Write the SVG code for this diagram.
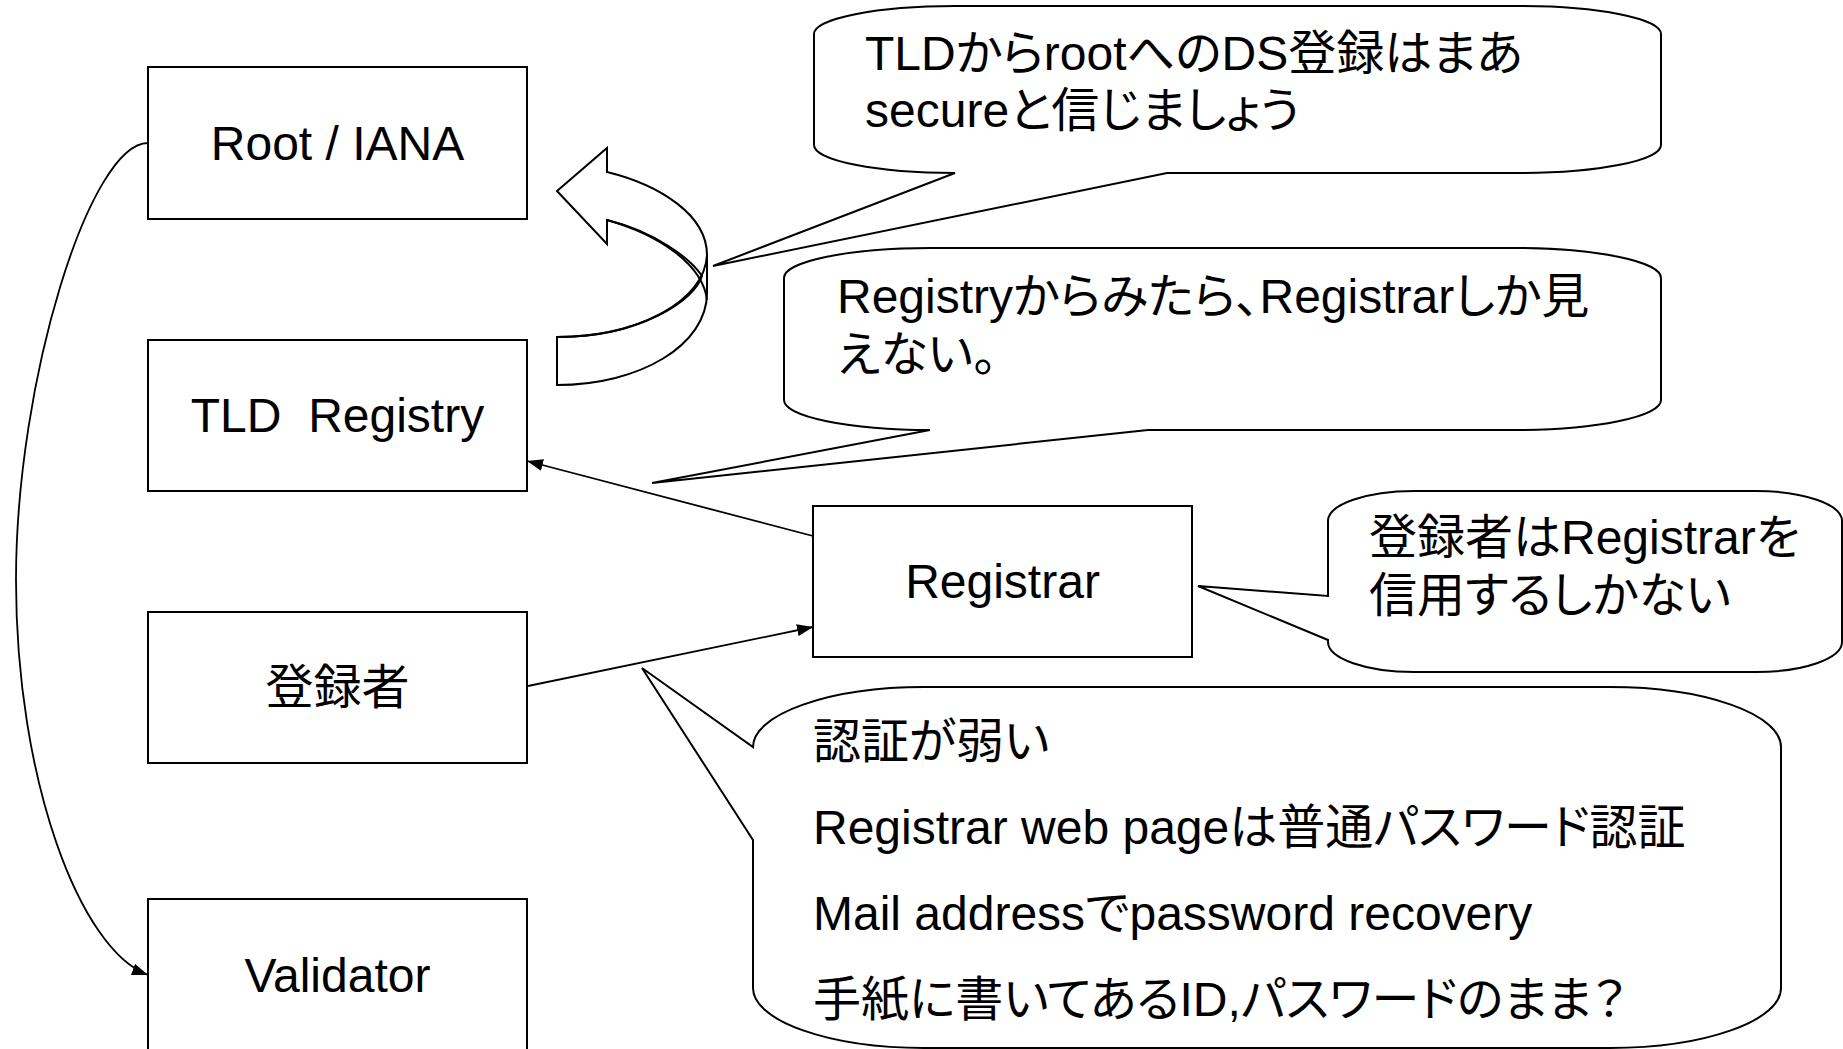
<svg xmlns="http://www.w3.org/2000/svg" width="1843" height="1049" viewBox="0 0 1843 1049">
<defs>
<style>
.box{fill:#fff;stroke:#000;stroke-width:2}
.bub{fill:#fff;stroke:#000;stroke-width:2;stroke-linejoin:miter}
.con{fill:none;stroke:#000;stroke-width:1.8}
.nt{font-family:"Liberation Sans","Noto Sans CJK JP",sans-serif;font-size:48px;fill:#000;text-anchor:middle;white-space:pre}
.bt{font-family:"Liberation Sans","Noto Sans CJK JP",sans-serif;font-size:48px;fill:#000;font-feature-settings:"palt"}
</style>
<marker id="arr" viewBox="0 0 16 12" refX="16" refY="6" markerWidth="16" markerHeight="12" orient="auto" markerUnits="userSpaceOnUse"><path d="M0,0 L16,6 L0,12 z" fill="#000"/></marker>
</defs>
<rect width="1843" height="1049" fill="#fff"/>

<g id="connectors">
<path class="con" d="M148,143 C90,143 16,380 16,580 C16,780 80,950 148,975" marker-end="url(#arr)"/>
<line class="con" x1="813" y1="536" x2="527" y2="461" marker-end="url(#arr)"/>
<line class="con" x1="528" y1="686" x2="813" y2="627" marker-end="url(#arr)"/>
</g>

<g id="curved-arrow">
<path class="box" d="M557,191 L607,148 L607,172 C660,185 707,215 707,255 L707,293 C707,345 640,385 557,385 L557,337 C640,337 695,300 702,276 C690,258 655,232 607,220 L607,244 Z"/>
<path class="con" style="stroke-width:2" d="M607,220 C660,235 703,265 707,300"/>
<path class="con" style="stroke-width:2" d="M557,337 C640,337 705,300 707,255"/>
</g>

<g id="node-root">
<rect class="box" x="148" y="67" width="379" height="152"/>
<text class="nt" x="337.5" y="160">Root / IANA</text>
</g>
<g id="node-tld">
<rect class="box" x="148" y="340" width="379" height="151"/>
<text class="nt" x="337.5" y="432">TLD  Registry</text>
</g>
<g id="node-registrant">
<rect class="box" x="148" y="612" width="379" height="151"/>
<text class="nt" x="337.5" y="704">登録者</text>
</g>
<g id="node-validator">
<rect class="box" x="148" y="899" width="379" height="152"/>
<text class="nt" x="337.5" y="992">Validator</text>
</g>
<g id="node-registrar">
<rect class="box" x="813" y="506" width="379" height="151"/>
<text class="nt" x="1002.5" y="598">Registrar</text>
</g>

<g id="callout-ds">
<path class="bub" d="M955,6 L1520,6 A141 28 0 0 1 1661,34 L1661,145 A141 28 0 0 1 1520,173 L1167,173 L713,266 L955,173 A141 28 0 0 1 814,145 L814,34 A141 28 0 0 1 955,6 Z"/>
<text class="bt" x="865" y="70">TLDからrootへのDS登録はまあ</text>
<text class="bt" x="865" y="127">secureと信じましょう</text>
</g>

<g id="callout-registry">
<path class="bub" d="M930,248 L1515,248 A146 30 0 0 1 1661,278 L1661,400 A146 30 0 0 1 1515,430 L1148,430 L652,483 L930,430 A146 30 0 0 1 784,400 L784,278 A146 30 0 0 1 930,248 Z"/>
<text class="bt" x="837" y="313">Registryからみたら、Registrarしか見</text>
<text class="bt" x="837" y="371">えない。</text>
</g>

<g id="callout-trust">
<path class="bub" d="M1414,491 L1756,491 A86 30 0 0 1 1842,521 L1842,642 A86 30 0 0 1 1756,672 L1414,672 A86 30 0 0 1 1328,642 L1328,640 L1198,586 L1328,596 L1328,521 A86 30 0 0 1 1414,491 Z"/>
<text class="bt" x="1369" y="554">登録者はRegistrarを</text>
<text class="bt" x="1369" y="612">信用するしかない</text>
</g>

<g id="callout-auth">
<path class="bub" d="M924,687 L1610,687 A171 60 0 0 1 1781,747 L1781,988 A171 60 0 0 1 1610,1048 L924,1048 A171 60 0 0 1 753,988 L753,840 L642,668 L753,747 A171 60 0 0 1 924,687 Z"/>
<text class="bt" x="813" y="758">認証が弱い</text>
<text class="bt" x="813" y="844">Registrar web pageは普通パスワード認証</text>
<text class="bt" x="813" y="930">Mail addressでpassword recovery</text>
<text class="bt" x="813" y="1016">手紙に書いてあるID,パスワードのまま？</text>
</g>
</svg>
